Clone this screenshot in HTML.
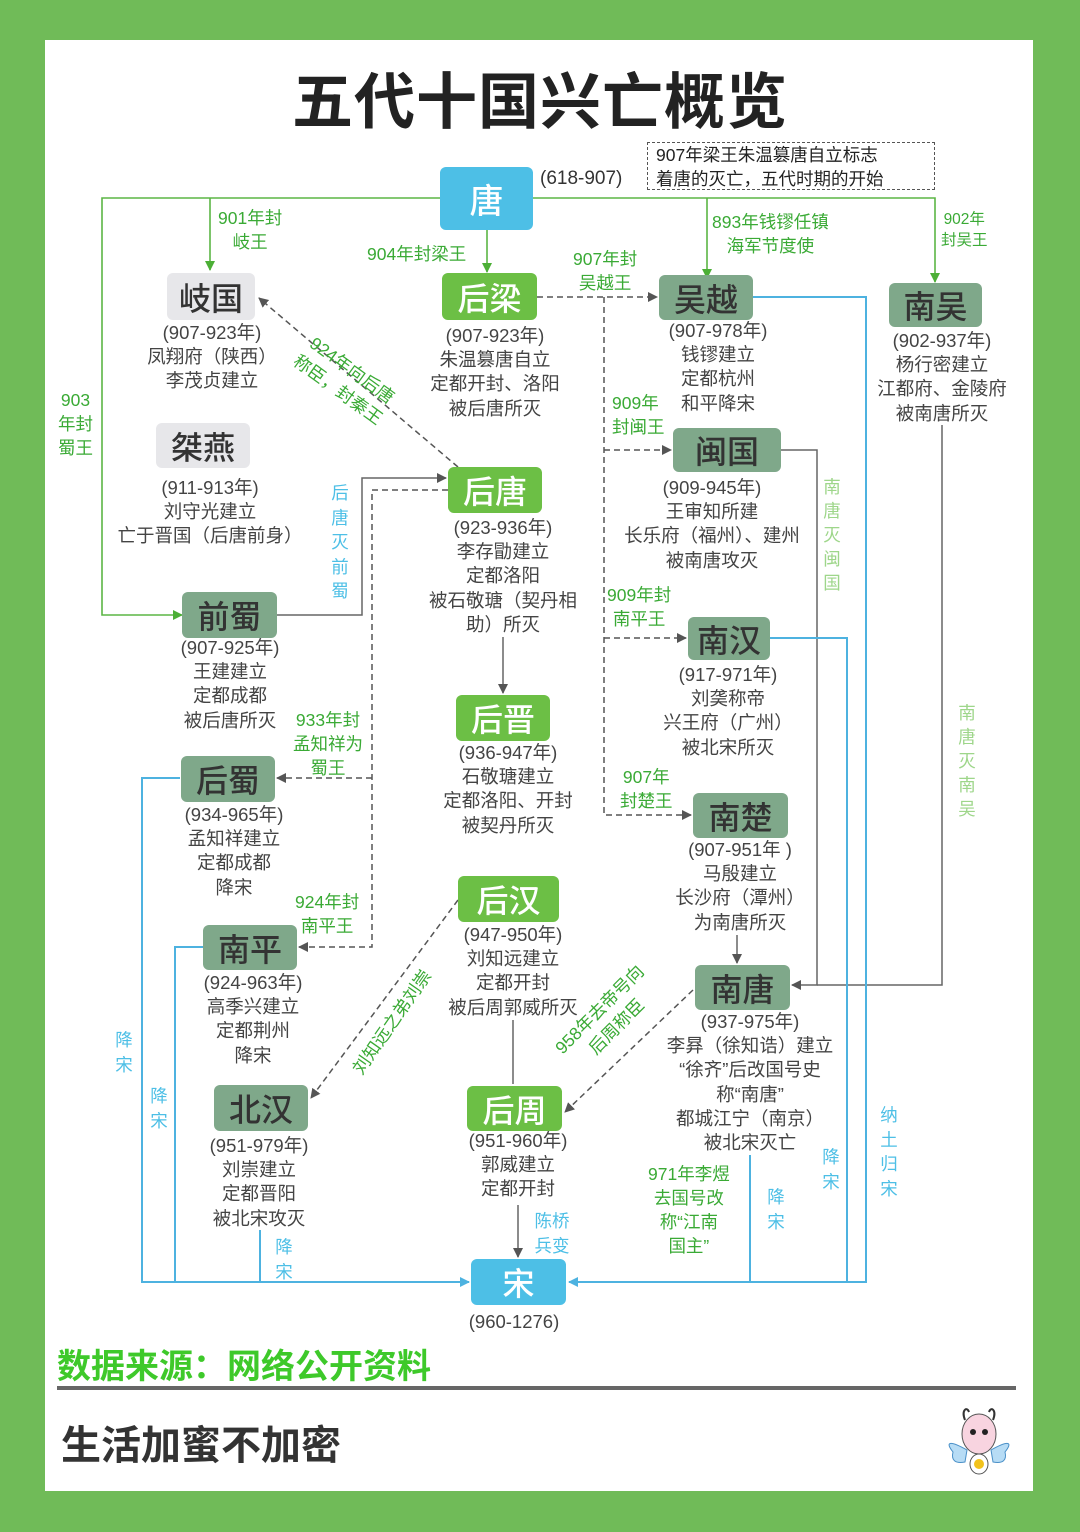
<!DOCTYPE html>
<html><head><meta charset="utf-8"><style>
body{margin:0;width:1080px;height:1532px;background:#70bb58;position:relative;overflow:hidden;font-family:"Liberation Sans","Noto Sans CJK SC",sans-serif}
#p{position:absolute;left:45px;top:40px;width:988px;height:1451px;background:#fff}
.a{position:absolute}
.n{position:absolute;border-radius:6px;font-size:32px;display:flex;align-items:center;justify-content:center;font-weight:500}
.b{background:#4dbfe6;color:#fff}
.g{background:#6cbf45;color:#fff}
.s{background:#7fa88a;color:#333}
.l{background:#e7e7ea;color:#333}
.t{position:absolute;transform:translateX(-50%);text-align:center;white-space:nowrap;font-size:18.5px;line-height:24.2px;color:#444}
.gr{position:absolute;color:#3aaa35;font-size:17.5px;line-height:24px;white-space:nowrap;text-align:center}
.bl{position:absolute;color:#4dbfe6;font-size:17.5px;line-height:24.5px;width:20px;text-align:center}
.lg{position:absolute;color:#9ed68a;font-size:17.5px;line-height:24px;width:20px;text-align:center}
</style></head><body>
<div id="p"></div>
<div class="a" style="left:0;width:1080px;top:52px;text-align:center;font-size:61px;font-weight:bold;color:#222;letter-spacing:1px">五代十国兴亡概览</div>
<div class="a" style="left:647px;top:142px;width:288px;height:48px;border:1.5px dashed #555;font-size:17.5px;line-height:24px;color:#222;padding-left:8px;box-sizing:border-box">907年梁王朱温篡唐自立标志<br>着唐的灭亡，五代时期的开始</div>

<svg class="a" style="left:0;top:0" width="1080" height="1532">
<defs>
<marker id="ag" markerWidth="10" markerHeight="10" refX="9" refY="5" orient="auto" markerUnits="userSpaceOnUse"><path d="M0,0L10,5L0,10z" fill="#4caf36"/></marker>
<marker id="ak" markerWidth="10" markerHeight="10" refX="9" refY="5" orient="auto" markerUnits="userSpaceOnUse"><path d="M0,0L10,5L0,10z" fill="#555"/></marker>
<marker id="ab" markerWidth="10" markerHeight="10" refX="9" refY="5" orient="auto" markerUnits="userSpaceOnUse"><path d="M0,0L10,5L0,10z" fill="#4db2e0"/></marker>
</defs>
<g fill="none" stroke="#5bb545" stroke-width="1.6">
<path d="M533,198H935V282" marker-end="url(#ag)"/>
<path d="M440,198H102V615H182" marker-end="url(#ag)"/>
<path d="M210,198V270" marker-end="url(#ag)"/>
<path d="M487,230V272" marker-end="url(#ag)"/>
<path d="M707,198V278" marker-end="url(#ag)"/>
</g>
<g fill="none" stroke="#555" stroke-width="1.5" stroke-dasharray="6,4">
<path d="M537,297H657" marker-end="url(#ak)"/>
<path d="M604,297V815H691" marker-end="url(#ak)"/>
<path d="M604,450H671" marker-end="url(#ak)"/>
<path d="M604,638H686" marker-end="url(#ak)"/>
<path d="M458,467L259,298" marker-end="url(#ak)"/>
<path d="M448,490H372V947H299" marker-end="url(#ak)"/>
<path d="M372,778H277" marker-end="url(#ak)"/>
<path d="M458,900L311,1098" marker-end="url(#ak)"/>
<path d="M693,990L565,1112" marker-end="url(#ak)"/>
</g>
<g fill="none" stroke="#666" stroke-width="1.5">
<path d="M277,615H362V478H446" marker-end="url(#ak)"/>
<path d="M503,637V693" marker-end="url(#ak)"/>
<path d="M513,1020V1084"/>
<path d="M518,1205V1257" marker-end="url(#ak)"/>
<path d="M737,935V963" marker-end="url(#ak)"/>
<path d="M781,450H817V985H792" marker-end="url(#ak)"/>
<path d="M942,425V985H817"/>
</g>
<g fill="none" stroke="#4db2e0" stroke-width="2">
<path d="M753,297H866V1282H569" marker-end="url(#ab)"/>
<path d="M770,638H847V1282"/>
<path d="M750,1155V1282"/>
<path d="M180,778H142V1282H469" marker-end="url(#ab)"/>
<path d="M203,947H175V1282"/>
<path d="M260,1230V1282"/>
</g>
</svg>

<div class="n b" style="left:440px;top:167px;width:93px;height:63px;font-size:34px">唐</div>
<div class="a" style="left:540px;top:168px;font-size:19px;color:#333">(618-907)</div>

<div class="gr" style="left:218px;top:206px">901年封<br>岐王</div>
<div class="gr" style="left:367px;top:242px">904年封梁王</div>
<div class="gr" style="left:712px;top:210px">893年钱镠任镇<br>海军节度使</div>
<div class="gr" style="left:941px;top:209px;font-size:15.5px;line-height:21px">902年<br>封吴王</div>
<div class="gr" style="left:58px;top:388px">903<br>年封<br>蜀王</div>
<div class="gr" style="left:573px;top:247px">907年封<br>吴越王</div>
<div class="gr" style="left:612px;top:391px;text-align:left">909年<br>封闽王</div>
<div class="gr" style="left:607px;top:583px">909年封<br>南平王</div>
<div class="gr" style="left:620px;top:765px">907年<br>封楚王</div>
<div class="gr" style="left:293px;top:708px">933年封<br>孟知祥为<br>蜀王</div>
<div class="gr" style="left:295px;top:890px">924年封<br>南平王</div>
<div class="gr" style="left:648px;top:1162px">971年李煜<br>去国号改<br>称“江南<br>国主”</div>
<div class="gr" style="left:345px;top:380px;transform:translate(-50%,-50%) rotate(36deg)">924年向后唐<br>称臣，封秦王</div>
<div class="gr" style="left:392px;top:1022px;transform:translate(-50%,-50%) rotate(-55deg)">刘知远之弟刘崇</div>
<div class="gr" style="left:608px;top:1018px;transform:translate(-50%,-50%) rotate(-45deg)">958年去帝号向<br>后周称臣</div>

<div class="bl" style="left:330px;top:481px">后<br>唐<br>灭<br>前<br>蜀</div>
<div class="lg" style="left:822px;top:475px">南<br>唐<br>灭<br>闽<br>国</div>
<div class="lg" style="left:957px;top:701px">南<br>唐<br>灭<br>南<br>吴</div>
<div class="bl" style="left:879px;top:1103px">纳<br>土<br>归<br>宋</div>
<div class="bl" style="left:114px;top:1028px">降<br>宋</div>
<div class="bl" style="left:149px;top:1084px">降<br>宋</div>
<div class="bl" style="left:274px;top:1235px">降<br>宋</div>
<div class="bl" style="left:766px;top:1185px">降<br>宋</div>
<div class="bl" style="left:821px;top:1145px">降<br>宋</div>
<div class="bl" style="left:532px;top:1209px;width:40px">陈桥<br>兵变</div>

<div class="n l" style="left:167px;top:273px;width:88px;height:47px">岐国</div>
<div class="t" style="left:212px;top:321px">(907-923年)<br>凤翔府（陕西）<br>李茂贞建立</div>
<div class="n l" style="left:156px;top:423px;width:94px;height:45px">桀燕</div>
<div class="t" style="left:210px;top:476px">(911-913年)<br>刘守光建立<br>亡于晋国（后唐前身）</div>
<div class="n g" style="left:442px;top:273px;width:95px;height:47px">后梁</div>
<div class="t" style="left:495px;top:324px">(907-923年)<br>朱温篡唐自立<br>定都开封、洛阳<br>被后唐所灭</div>
<div class="n s" style="left:659px;top:275px;width:94px;height:45px">吴越</div>
<div class="t" style="left:718px;top:319px">(907-978年)<br>钱镠建立<br>定都杭州<br>和平降宋</div>
<div class="n s" style="left:889px;top:283px;width:93px;height:44px">南吴</div>
<div class="t" style="left:942px;top:329px">(902-937年)<br>杨行密建立<br>江都府、金陵府<br>被南唐所灭</div>
<div class="n s" style="left:673px;top:428px;width:108px;height:44px">闽国</div>
<div class="t" style="left:712px;top:476px">(909-945年)<br>王审知所建<br>长乐府（福州）、建州<br>被南唐攻灭</div>
<div class="n g" style="left:448px;top:467px;width:94px;height:46px">后唐</div>
<div class="t" style="left:503px;top:516px">(923-936年)<br>李存勖建立<br>定都洛阳<br>被石敬瑭（契丹相<br>助）所灭</div>
<div class="n s" style="left:182px;top:592px;width:95px;height:46px">前蜀</div>
<div class="t" style="left:230px;top:636px">(907-925年)<br>王建建立<br>定都成都<br>被后唐所灭</div>
<div class="n s" style="left:688px;top:617px;width:82px;height:43px">南汉</div>
<div class="t" style="left:728px;top:663px">(917-971年)<br>刘䶮称帝<br>兴王府（广州）<br>被北宋所灭</div>
<div class="n g" style="left:456px;top:695px;width:94px;height:46px">后晋</div>
<div class="t" style="left:508px;top:741px">(936-947年)<br>石敬瑭建立<br>定都洛阳、开封<br>被契丹所灭</div>
<div class="n s" style="left:181px;top:756px;width:94px;height:46px">后蜀</div>
<div class="t" style="left:234px;top:803px">(934-965年)<br>孟知祥建立<br>定都成都<br>降宋</div>
<div class="n s" style="left:693px;top:793px;width:95px;height:45px">南楚</div>
<div class="t" style="left:740px;top:838px">(907-951年 )<br>马殷建立<br>长沙府（潭州）<br>为南唐所灭</div>
<div class="n g" style="left:458px;top:876px;width:101px;height:46px">后汉</div>
<div class="t" style="left:513px;top:923px">(947-950年)<br>刘知远建立<br>定都开封<br>被后周郭威所灭</div>
<div class="n s" style="left:203px;top:925px;width:94px;height:45px">南平</div>
<div class="t" style="left:253px;top:971px">(924-963年)<br>高季兴建立<br>定都荆州<br>降宋</div>
<div class="n s" style="left:695px;top:965px;width:95px;height:45px">南唐</div>
<div class="t" style="left:750px;top:1010px">(937-975年)<br>李昪（徐知诰）建立<br>“徐齐”后改国号史<br>称“南唐”<br>都城江宁（南京）<br>被北宋灭亡</div>
<div class="n s" style="left:214px;top:1085px;width:94px;height:46px">北汉</div>
<div class="t" style="left:259px;top:1134px">(951-979年)<br>刘崇建立<br>定都晋阳<br>被北宋攻灭</div>
<div class="n g" style="left:467px;top:1086px;width:95px;height:45px">后周</div>
<div class="t" style="left:518px;top:1129px">(951-960年)<br>郭威建立<br>定都开封</div>
<div class="n b" style="left:471px;top:1259px;width:95px;height:46px">宋</div>
<div class="t" style="left:514px;top:1310px">(960-1276)</div>

<div class="a" style="left:57px;top:1339px;font-size:34px;font-weight:bold;color:#3ec92a">数据来源：网络公开资料</div>
<div class="a" style="left:57px;top:1386px;width:959px;height:4px;background:#666"></div>
<div class="a" style="left:61px;top:1413px;font-size:40px;font-weight:bold;color:#333">生活加蜜不加密</div>
<svg class="a" style="left:945px;top:1402px" width="75" height="80">
<path d="M20,18C16,8 22,4 24,10M48,18C52,8 46,4 44,10" stroke="#333" fill="none" stroke-width="2"/>
<path d="M8,50C0,40 4,38 22,48L20,60C10,62 6,58 8,50zM60,50C68,40 64,38 46,48L48,60C58,62 62,58 60,50z" fill="#b7dcf5" stroke="#4a90c8"/>
<ellipse cx="34" cy="32" rx="17" ry="20" fill="#f8d4e0" stroke="#555"/>
<circle cx="28" cy="30" r="3" fill="#222"/><circle cx="40" cy="30" r="3" fill="#222"/>
<ellipse cx="34" cy="62" rx="9" ry="10" fill="#fff" stroke="#555"/>
<circle cx="34" cy="62" r="5" fill="#f2c21b"/>
</svg>
</body></html>
